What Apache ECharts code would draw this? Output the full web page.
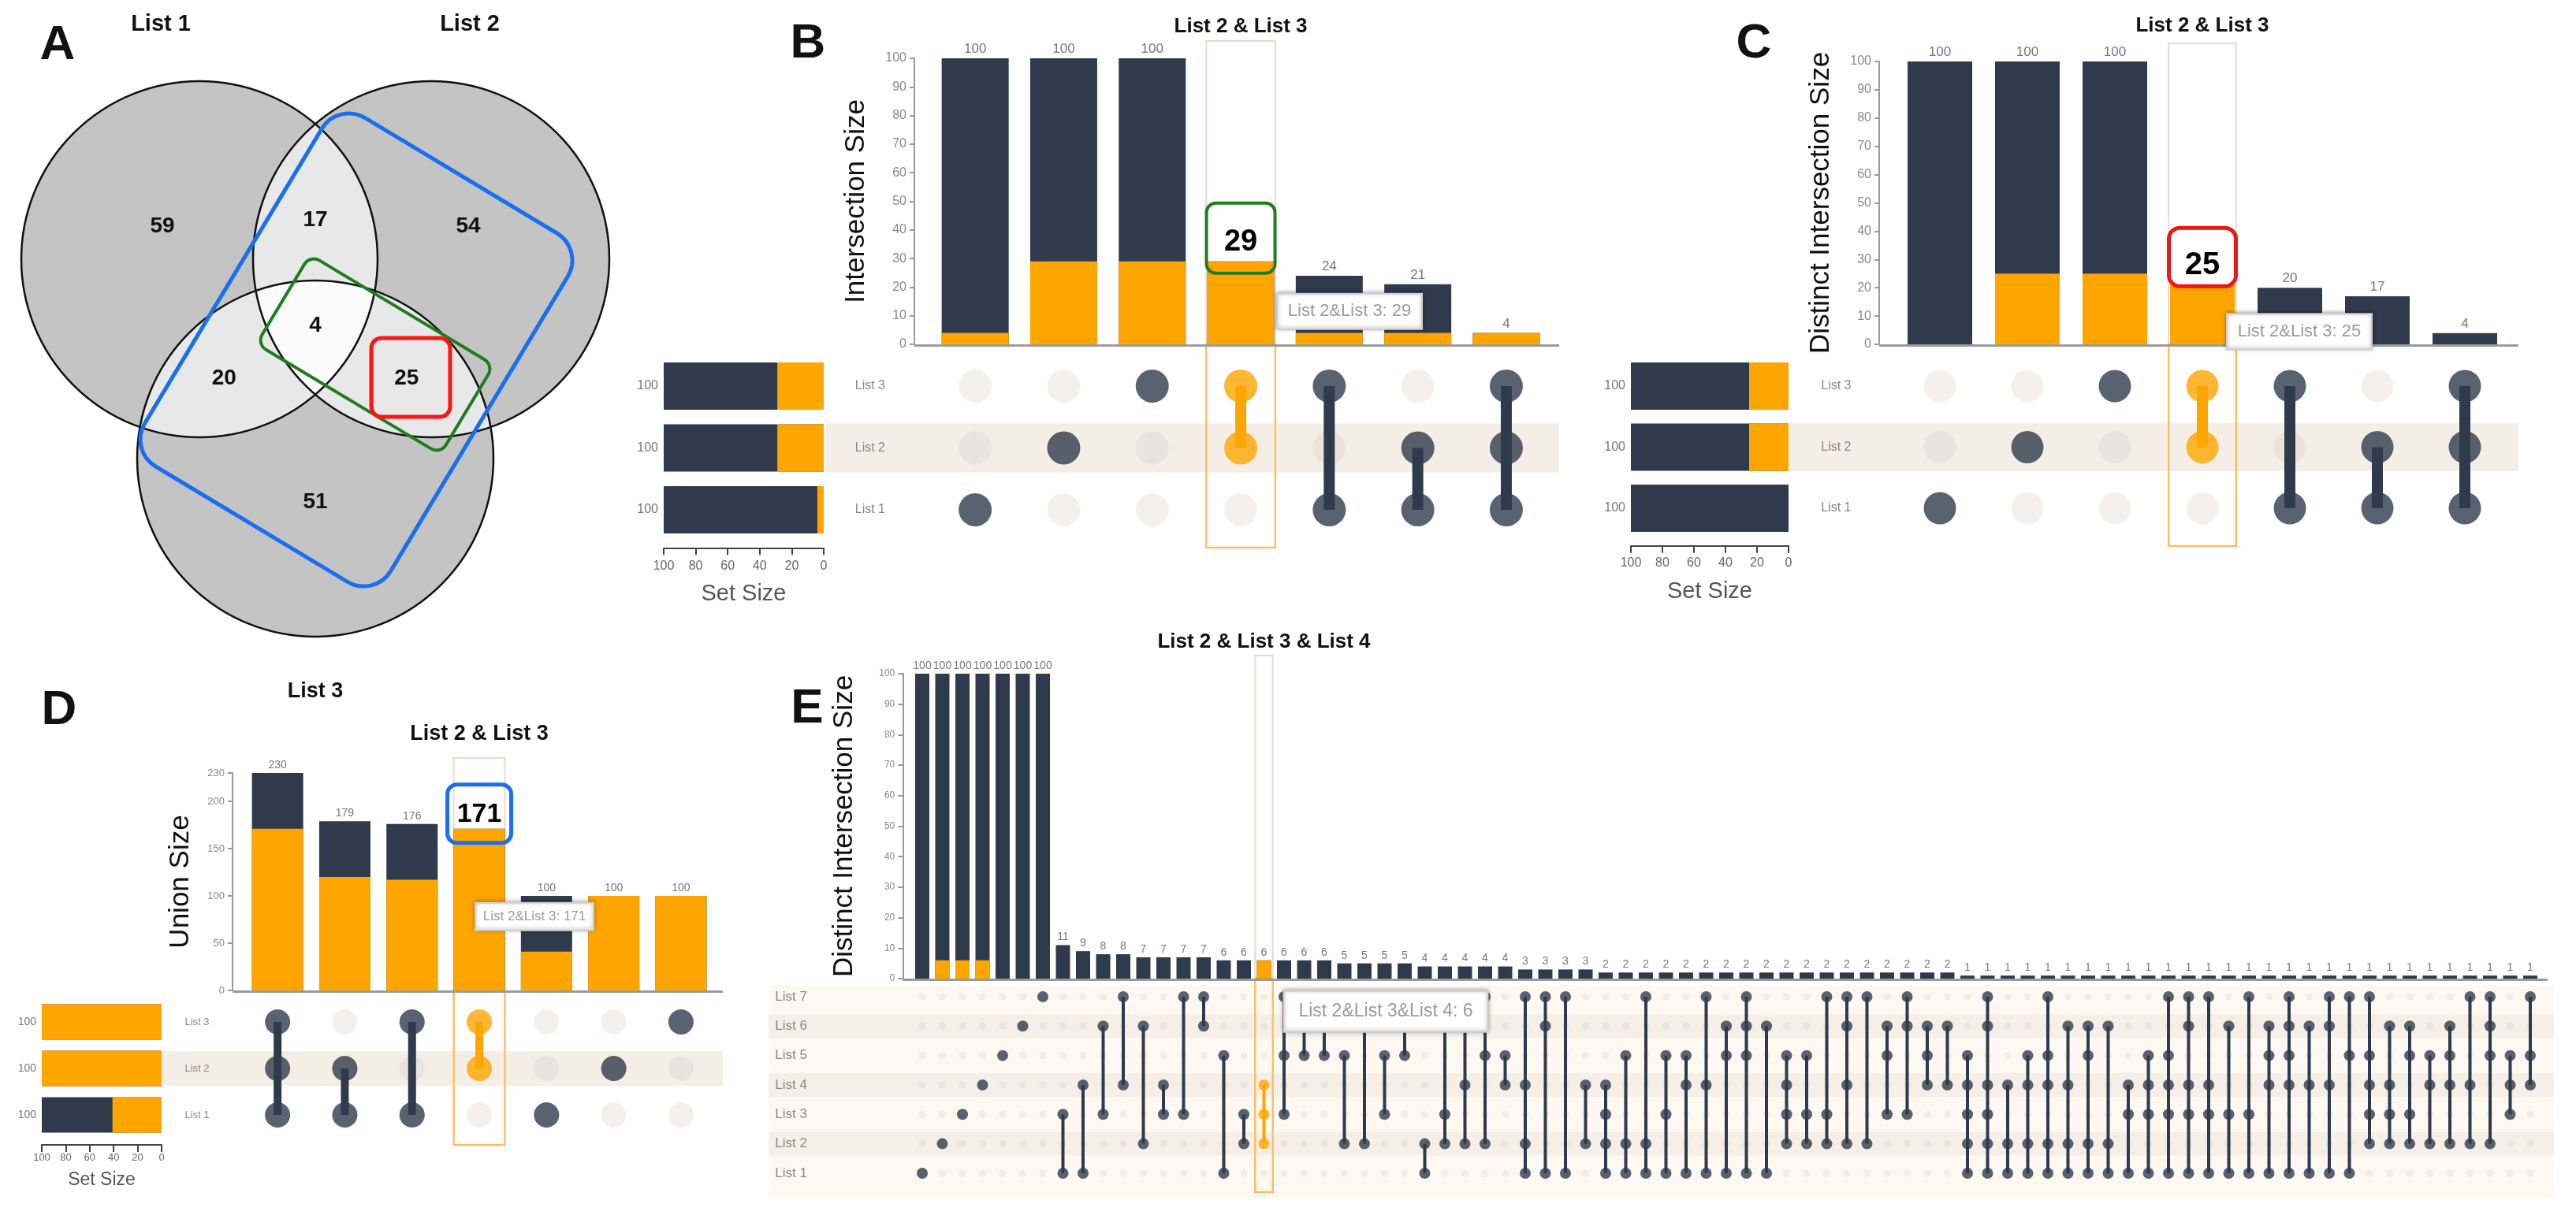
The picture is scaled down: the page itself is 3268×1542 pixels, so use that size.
<!DOCTYPE html>
<html>
<head>
<meta charset="utf-8">
<title>Venn and UpSet plots</title>
<script src="https://cdn.jsdelivr.net/npm/echarts@6/dist/echarts.min.js"></script>
<style>
html,body{margin:0;padding:0;background:#fff;}
#chart{width:3268px;height:1542px;}
</style>
</head>
<body>
<div id="chart"></div>
<script>
// ======================= DATA =======================
// Panel A - Venn diagram (membership key = List1 List2 List3)
const vennSetNames = ['List 1', 'List 2', 'List 3'];
const vennRegionKeys = ['100', '110', '010', '111', '101', '011', '001'];
const vennRegionCounts = [59, 17, 54, 4, 20, 25, 51];

// Panel B - Intersection Size
const bSets = ['List 1', 'List 2', 'List 3'];
const bMembers = [[0], [1], [2], [1, 2], [0, 2], [0, 1], [0, 1, 2]];
const bSizes = [100, 100, 100, 29, 24, 21, 4];
const bSelected = [4, 29, 29, 29, 4, 4, 4];
const bSetSizes = [100, 100, 100];
const bSetSelected = [4, 29, 29];
const bYTicks = [0, 10, 20, 30, 40, 50, 60, 70, 80, 90, 100];
const bSetTicks = [0, 20, 40, 60, 80, 100];
const bHighlight = 3;

// Panel C - Distinct Intersection Size
const cSets = ['List 1', 'List 2', 'List 3'];
const cMembers = [[0], [1], [2], [1, 2], [0, 2], [0, 1], [0, 1, 2]];
const cSizes = [100, 100, 100, 25, 20, 17, 4];
const cSelected = [0, 25, 25, 25, 0, 0, 0];
const cSetSizes = [100, 100, 100];
const cSetSelected = [0, 25, 25];
const cYTicks = [0, 10, 20, 30, 40, 50, 60, 70, 80, 90, 100];
const cSetTicks = [0, 20, 40, 60, 80, 100];
const cHighlight = 3;

// Panel D - Union Size
const dSets = ['List 1', 'List 2', 'List 3'];
const dMembers = [[0, 1, 2], [0, 1], [0, 2], [1, 2], [0], [1], [2]];
const dSizes = [230, 179, 176, 171, 100, 100, 100];
const dSelected = [171, 120, 117, 171, 41, 100, 100];
const dSetSizes = [100, 100, 100];
const dSetSelected = [41, 100, 100];
const dYTicks = [0, 50, 100, 150, 200, 230];
const dSetTicks = [0, 20, 40, 60, 80, 100];
const dHighlight = 3;

// Panel E - Distinct Intersection Size, 7 lists
const eSets = ['List 1', 'List 2', 'List 3', 'List 4', 'List 5', 'List 6', 'List 7'];
const eMembers = [
  [0], [1], [2], [3], [4], [5], [6],
  [0, 2], [0, 3], [2, 5], [3, 6], [1, 5], [2, 3], [2, 6], [5, 6], [0, 4], [1, 2], [1, 2, 3],
  [2, 4, 6], [4, 6], [4, 5], [1, 4], [1, 5, 6], [2, 4], [4, 5, 6], [0, 1], [1, 2, 5], [1, 3, 5], [1, 4, 6], [3, 4],
  [0, 1, 3, 6], [0, 5, 6], [0, 6], [1, 3], [0, 1, 2, 3], [0, 1, 4], [0, 1, 6], [0, 2, 4], [0, 3, 4], [0, 3, 6],
  [0, 4, 5], [0, 4, 5, 6], [0, 5], [1, 2, 3, 4], [1, 2, 4], [1, 2, 6], [1, 3, 5, 6], [1, 6], [2, 4, 5], [2, 5, 6],
  [3, 4, 5], [3, 5],
  [0, 1, 2, 3, 4], [0, 1, 2, 3, 5, 6], [0, 1, 3], [0, 1, 3, 4], [0, 1, 3, 4, 6], [0, 1, 3, 5], [0, 1, 4, 5], [0, 1, 5],
  [0, 2, 3], [0, 2, 3, 4], [0, 2, 3, 4, 6], [0, 2, 3, 5, 6], [0, 2, 3, 6], [0, 2, 5], [0, 2, 6], [0, 3, 4, 5],
  [0, 3, 4, 5, 6], [0, 3, 5], [0, 3, 5, 6], [0, 4, 6],
  [1, 2, 3, 4, 6], [1, 2, 3, 5], [1, 2, 4, 5], [1, 3, 4], [1, 3, 4, 5], [1, 3, 6], [1, 4, 5, 6], [2, 3, 4], [3, 4, 6]
];
const eSizes = [100, 100, 100, 100, 100, 100, 100, 11, 9, 8, 8, 7, 7, 7, 7, 6, 6, 6, 6, 6, 6, 5, 5, 5, 5,
  4, 4, 4, 4, 4, 3, 3, 3, 3, 2, 2, 2, 2, 2, 2, 2, 2, 2, 2, 2, 2, 2, 2, 2, 2, 2, 2,
  1, 1, 1, 1, 1, 1, 1, 1, 1, 1, 1, 1, 1, 1, 1, 1, 1, 1, 1, 1, 1, 1, 1, 1, 1, 1, 1, 1, 1];
const eSelected = [0, 6, 6, 6, 0, 0, 0, 0, 0, 0, 0, 0, 0, 0, 0, 0, 0, 6, 0, 0, 0, 0, 0, 0, 0,
  0, 0, 0, 0, 0, 0, 0, 0, 0, 0, 0, 0, 0, 0, 0, 0, 0, 0, 0, 0, 0, 0, 0, 0, 0, 0, 0,
  0, 0, 0, 0, 0, 0, 0, 0, 0, 0, 0, 0, 0, 0, 0, 0, 0, 0, 0, 0, 0, 0, 0, 0, 0, 0, 0, 0, 0];
const eYTicks = [0, 10, 20, 30, 40, 50, 60, 70, 80, 90, 100];
const eHighlight = 17;

// ======================= STYLE / LAYOUT =======================
const FONT = '"Liberation Sans", Arial, Helvetica, sans-serif';
const NAVY = '#2f3b4c';
const ORANGE = '#ffa500';

const LB = {
  colLeft: 1181, colPitch: 112.3, barTop: 74, barBottom: 437, axisOffset: 21, baseRight: 1978,
  barW: 85, tickFont: 16, valFont: 17, nameFont: 35, nameGap: 56,
  rowTop: 450.75, rowPitch: 78.5, rowLabelMargin: 58, rowLabelAlign: 'right', rowLabelFont: 16,
  dotSize: 42, inactiveSize: 42, lineW: 14,
  bandRows: [1], bandLeft: 1048, bandRight: 1978, bandFrac: 0.79, bandColor: '#f5eee7',
  inactive: '#f3ece6', inactiveBand: '#e7e1dc',
  set: { left: 842, right: 1045, barH: 60, axisOffset: 9, tickFont: 16, labelMargin: 15, nameFont: 29, nameGap: 44, valFont: 16 },
  hiTop: 52, hiBottom: 695, hiFrac: 0.78, titleY: 34, titleFont: 26,
  annot: { w: 87, top: -74, bot: 15, text: -24, font: 38, color: '#1e7d1e', lw: 4, r: 12, fill: 'none' },
  tip: { dx: 46, dy: 41, w: 184, h: 45, font: 22 }
};
const LC = {
  colLeft: 2405.5, colPitch: 111, barTop: 78, barBottom: 437, axisOffset: 21.5, baseRight: 3195,
  barW: 82, tickFont: 16, valFont: 17, nameFont: 35, nameGap: 56,
  rowTop: 451.25, rowPitch: 77.5, rowLabelMargin: 57, rowLabelAlign: 'right', rowLabelFont: 16,
  dotSize: 41, inactiveSize: 41, lineW: 14,
  bandRows: [1], bandLeft: 2271, bandRight: 3195, bandFrac: 0.79, bandColor: '#f5eee7',
  inactive: '#f3ece6', inactiveBand: '#e7e1dc',
  set: { left: 2069, right: 2269, barH: 60, axisOffset: 9, tickFont: 16, labelMargin: 14, nameFont: 29, nameGap: 44, valFont: 16 },
  hiTop: 55, hiBottom: 693, hiFrac: 0.77, titleY: 33, titleFont: 26,
  annot: { w: 85, top: -58, bot: 16, text: -10, font: 40, color: '#f01414', lw: 5, r: 14, fill: '#ffffff' },
  tip: { dx: 31, dy: 51, w: 184, h: 45, font: 22 }
};
const LD = {
  colLeft: 309.5, colPitch: 85.3, barTop: 981, barBottom: 1257, axisOffset: 14.5, baseRight: 917,
  barW: 65, tickFont: 13, valFont: 14, nameFont: 35, nameGap: 48,
  rowTop: 1267.5, rowPitch: 59, rowLabelMargin: 44, rowLabelAlign: 'right', rowLabelFont: 13,
  dotSize: 32, inactiveSize: 32, lineW: 10,
  bandRows: [1], bandLeft: 205, bandRight: 917, bandFrac: 0.75, bandColor: '#f5eee7',
  inactive: '#f3ece6', inactiveBand: '#e7e1dc',
  set: { left: 53, right: 205, barH: 45, axisOffset: 8.5, tickFont: 13, labelMargin: 10, nameFont: 23, nameGap: 33, valFont: 14 },
  hiTop: 962, hiBottom: 1453, hiFrac: 0.76, titleY: 932, titleFont: 27,
  annot: { w: 81, top: -56, bot: 18, text: -18, font: 34, color: '#1a6ff0', lw: 5, r: 12, fill: 'none' },
  tip: { dx: -5, dy: 94, w: 150, h: 35, font: 17 }
};
const LE = {
  colLeft: 1157.25, colPitch: 25.5, barTop: 855, barBottom: 1242, axisOffset: 12, baseRight: 3232,
  barW: 18, tickFont: 12, valFont: 14, nameFont: 35, nameGap: 56,
  rowTop: 1246.3, rowPitch: 37.33, rowLabelMargin: 174, rowLabelAlign: 'left', rowLabelFont: 17,
  dotSize: 14, inactiveSize: 9, lineW: 4,
  bandRows: [1, 3, 5], bandLeft: 975, bandRight: 3240, bandFrac: 0.8, bandColor: '#f6efe8',
  inactive: '#f1e8e1', inactiveBand: '#e9e2dc',
  bg: { left: 975, right: 3240, top: 1250, bottom: 1520, color: '#fdf8f2' },
  set: null,
  hiTop: 832, hiBottom: 1513, hiFrac: 0.88, titleY: 815, titleFont: 26,
  annot: null,
  tip: { dx: 25, dy: 39, w: 259, h: 52, font: 23 }
};

// ======================= BUILD =======================
const option = {
  animation: false,
  backgroundColor: '#ffffff',
  textStyle: { fontFamily: FONT },
  grid: [], xAxis: [], yAxis: [], series: [],
  graphic: { elements: [] }
};
const G = option.graphic.elements;

function txt(x, y, text, size, o) {
  o = o || {};
  return {
    type: 'text', x: x, y: y, z: o.z || 30, silent: true,
    style: {
      text: text, font: (o.bold ? 'bold ' : '') + size + 'px ' + FONT, fill: o.color || '#111',
      align: o.align || 'center', verticalAlign: 'middle',
      textAlign: o.align || 'center', textVerticalAlign: 'middle'
    }
  };
}
function addGrid(g) {
  option.grid.push(Object.assign({ outerBoundsMode: 'none', containLabel: false }, g));
  return option.grid.length - 1;
}

// ---------- Panel A : Venn ----------
const VC = [{ x: 253, y: 329 }, { x: 547, y: 329 }, { x: 400, y: 582 }];
const VR = 226;
function intersectPoly(idx) {
  const pts = [];
  const N = 1440;
  idx.forEach(function (i) {
    const c = VC[i];
    for (let k = 0; k < N; k++) {
      const a = 2 * Math.PI * k / N;
      const x = c.x + VR * Math.cos(a), y = c.y + VR * Math.sin(a);
      if (idx.every(function (j) { return j === i || Math.hypot(x - VC[j].x, y - VC[j].y) <= VR + 0.5; })) pts.push([x, y]);
    }
  });
  let cx = 0, cy = 0;
  pts.forEach(function (p) { cx += p[0]; cy += p[1]; });
  cx /= pts.length; cy /= pts.length;
  pts.sort(function (p, q) { return Math.atan2(p[1] - cy, p[0] - cx) - Math.atan2(q[1] - cy, q[0] - cx); });
  return pts;
}
VC.forEach(function (c) { G.push({ type: 'circle', z: 1, silent: true, shape: { cx: c.x, cy: c.y, r: VR }, style: { fill: '#c4c4c4' } }); });
[[0, 1], [0, 2], [1, 2]].forEach(function (p) { G.push({ type: 'polygon', z: 2, silent: true, shape: { points: intersectPoly(p) }, style: { fill: '#e8e8e8' } }); });
G.push({ type: 'polygon', z: 3, silent: true, shape: { points: intersectPoly([0, 1, 2]) }, style: { fill: '#fafafa' } });
VC.forEach(function (c) { G.push({ type: 'circle', z: 4, silent: true, shape: { cx: c.x, cy: c.y, r: VR }, style: { fill: 'none', stroke: '#111', lineWidth: 2.5 } }); });

// region label positions: centroid of each region (sampled), exclusive ones pulled slightly inward
(function () {
  const acc = {};
  for (let x = 20; x < 790; x += 2) {
    for (let y = 95; y < 815; y += 2) {
      const key = VC.map(function (c) { return Math.hypot(x - c.x, y - c.y) <= VR ? '1' : '0'; }).join('');
      if (key === '000') continue;
      if (!acc[key]) acc[key] = { sx: 0, sy: 0, n: 0 };
      acc[key].sx += x; acc[key].sy += y; acc[key].n++;
    }
  }
  const mx = (VC[0].x + VC[1].x + VC[2].x) / 3, my = (VC[0].y + VC[1].y + VC[2].y) / 3;
  vennRegionKeys.forEach(function (k, i) {
    const a = acc[k];
    let x = a.sx / a.n, y = a.sy / a.n;
    const excl = k.split('1').length - 1 === 1;
    if (excl) { x += 0.08 * (mx - x); y += 0.08 * (my - y) - (y < my ? 14 : 0); }
    G.push(txt(x, y, String(vennRegionCounts[i]), 28, { bold: true, z: 10 }));
  });
})();
G.push(txt(204, 31, vennSetNames[0], 29, { bold: true }));
G.push(txt(596, 31, vennSetNames[1], 29, { bold: true }));
// highlight outlines on the Venn
G.push({ type: 'rect', z: 12, silent: true, x: 452, y: 444, rotation: -31 * Math.PI / 180,
  shape: { x: -182, y: -258, width: 364, height: 516, r: 40 }, style: { fill: 'none', stroke: '#1a6ff0', lineWidth: 5 } });
G.push({ type: 'rect', z: 12, silent: true, x: 476, y: 450, rotation: -31 * Math.PI / 180,
  shape: { x: -136, y: -66, width: 272, height: 132, r: 14 }, style: { fill: 'none', stroke: '#1e7d1e', lineWidth: 4 } });
G.push({ type: 'rect', z: 12, silent: true, shape: { x: 471, y: 429, width: 100, height: 100, r: 13 }, style: { fill: 'none', stroke: '#ff1414', lineWidth: 5 } });

// panel letters
G.push(txt(73, 58, 'A', 62, { bold: true }));
G.push(txt(1025, 56, 'B', 62, { bold: true }));
G.push(txt(2225, 56, 'C', 62, { bold: true }));
G.push(txt(75, 902, 'D', 62, { bold: true }));
G.push(txt(1024, 900, 'E', 62, { bold: true }));
G.push(txt(400, 878, 'List 3', 27, { bold: true }));

// ---------- UpSet builder ----------
function upset(P, L) {
  const nC = P.members.length, nS = P.sets.length;
  const combos = P.members.map(function (m) { return m.map(function (i) { return P.sets[i]; }).join('&'); });
  const hi = P.hi;

  // --- intersection bars
  const gB = addGrid({ left: L.colLeft, top: L.barTop, width: L.colPitch * nC, height: L.barBottom - L.barTop });
  const xB = option.xAxis.push({ gridIndex: gB, type: 'category', data: combos, show: false }) - 1;
  const yB = option.yAxis.push({
    gridIndex: gB, type: 'value', min: P.yTicks[0], max: P.yTicks[P.yTicks.length - 1],
    interval: P.yTicks[1] - P.yTicks[0], offset: L.axisOffset,
    axisLine: { show: true, lineStyle: { color: '#999', width: 2 } },
    axisTick: { show: true, length: 6, lineStyle: { color: '#999', width: 2 } },
    axisLabel: { fontSize: L.tickFont, color: '#888', margin: 10, fontFamily: FONT },
    splitLine: { show: false },
    name: P.yName, nameLocation: 'middle', nameRotate: 90, nameGap: L.nameGap, nameMoveOverlap: false,
    nameTextStyle: { fontSize: L.nameFont, color: '#111', fontFamily: FONT }
  }) - 1;
  option.series.push({
    type: 'bar', xAxisIndex: xB, yAxisIndex: yB, data: P.sizes, barWidth: L.barW, z: 2, silent: true,
    itemStyle: { color: NAVY },
    label: { show: true, position: 'top', distance: 3, fontSize: L.valFont, color: '#777', fontFamily: FONT,
      formatter: function (p) { return (P.hideHiLabel && p.dataIndex === hi) ? '' : String(p.value); } }
  });
  option.series.push({
    type: 'bar', xAxisIndex: xB, yAxisIndex: yB, data: P.selected, barWidth: L.barW, barGap: '-100%', z: 3, silent: true,
    itemStyle: { color: ORANGE }
  });
  G.push({ type: 'line', z: 8, silent: true, shape: { x1: L.colLeft - L.axisOffset, y1: L.barBottom + 1.5, x2: L.baseRight, y2: L.barBottom + 1.5 },
    style: { stroke: '#9a9a9a', lineWidth: 3 } });

  // highlight column + title
  const title = combos[hi].split('&').join(' & ');
  option.series.push({
    type: 'custom', xAxisIndex: xB, yAxisIndex: yB, z: 1, silent: true, clip: false,
    data: [[hi, 0]], encode: { x: 0, y: 1 },
    renderItem: function (params, api) {
      const c = api.coord([api.value(0), 0]);
      const w = api.size([1, 0])[0] * L.hiFrac;
      return { type: 'group', children: [
        { type: 'rect', shape: { x: c[0] - w / 2, y: L.hiTop, width: w, height: L.barBottom - L.hiTop }, style: { fill: 'none', stroke: '#e4dcd4', lineWidth: 2 } },
        { type: 'rect', shape: { x: c[0] - w / 2, y: L.barBottom, width: w, height: L.hiBottom - L.barBottom }, style: { fill: 'none', stroke: '#fbc064', lineWidth: 2.5 } },
        { type: 'text', style: { text: title, x: c[0], y: L.titleY, font: 'bold ' + L.titleFont + 'px ' + FONT, fill: '#111',
          align: 'center', verticalAlign: 'middle', textAlign: 'center', textVerticalAlign: 'middle' } }
      ] };
    }
  });

  // annotation box
  if (L.annot) {
    const A = L.annot;
    option.series.push({
      type: 'custom', xAxisIndex: xB, yAxisIndex: yB, z: 6, silent: true, clip: false,
      data: [[hi, P.selected[hi]]], encode: { x: 0, y: 1 },
      renderItem: function (params, api) {
        const c = api.coord([api.value(0), api.value(1)]);
        return { type: 'group', children: [
          { type: 'rect', shape: { x: c[0] - A.w / 2, y: c[1] + A.top, width: A.w, height: A.bot - A.top, r: A.r },
            style: { fill: A.fill, stroke: A.color, lineWidth: A.lw } },
          { type: 'text', style: { text: String(api.value(1)), x: c[0], y: c[1] + A.text, font: 'bold ' + A.font + 'px ' + FONT, fill: '#000',
            align: 'center', verticalAlign: 'middle', textAlign: 'center', textVerticalAlign: 'middle' } }
        ] };
      }
    });
  }
  // tooltip box
  const T = L.tip;
  option.series.push({
    type: 'custom', xAxisIndex: xB, yAxisIndex: yB, z: 9, silent: true, clip: false,
    data: [[hi, P.sizes[hi]]], encode: { x: 0, y: 1 },
    renderItem: function (params, api) {
      const c = api.coord([api.value(0), api.value(1)]);
      const x = c[0] + T.dx, y = c[1] + T.dy;
      return { type: 'group', children: [
        { type: 'rect', shape: { x: x, y: y, width: T.w, height: T.h },
          style: { fill: '#ffffff', stroke: '#cfcfcf', lineWidth: 2, shadowBlur: 5, shadowColor: 'rgba(0,0,0,0.35)', shadowOffsetY: -1 } },
        { type: 'text', style: { text: combos[hi] + ': ' + P.sizes[hi], x: x + T.w / 2, y: y + T.h / 2,
          font: T.font + 'px ' + FONT, fill: '#9a9a9a', align: 'center', verticalAlign: 'middle', textAlign: 'center', textVerticalAlign: 'middle' } }
      ] };
    }
  });

  // --- matrix
  if (L.bg) G.push({ type: 'rect', z: 0, silent: true, shape: { x: L.bg.left, y: L.bg.top, width: L.bg.right - L.bg.left, height: L.bg.bottom - L.bg.top }, style: { fill: L.bg.color } });
  const gM = addGrid({ left: L.colLeft, top: L.rowTop, width: L.colPitch * nC, height: L.rowPitch * nS });
  const xM = option.xAxis.push({ gridIndex: gM, type: 'category', data: combos, show: false }) - 1;
  const yM = option.yAxis.push({
    gridIndex: gM, type: 'category', data: P.sets,
    axisLine: { show: false }, axisTick: { show: false }, splitLine: { show: false },
    axisLabel: { fontSize: L.rowLabelFont, color: '#888', margin: L.rowLabelMargin, align: L.rowLabelAlign, fontFamily: FONT }
  }) - 1;
  option.series.push({
    type: 'custom', xAxisIndex: xM, yAxisIndex: yM, z: 0, silent: true, clip: false,
    data: L.bandRows.map(function (r) { return [0, r]; }), encode: { x: 0, y: 1 },
    renderItem: function (params, api) {
      const c = api.coord([0, api.value(1)]);
      const h = L.rowPitch * L.bandFrac;
      return { type: 'rect', shape: { x: L.bandLeft, y: c[1] - h / 2, width: L.bandRight - L.bandLeft, height: h }, style: { fill: L.bandColor } };
    }
  });
  const inactive = [], active = [], lines = [];
  P.members.forEach(function (m, c) {
    for (let r = 0; r < nS; r++) {
      if (m.indexOf(r) >= 0) active.push({ value: [c, r], itemStyle: { color: c === hi ? ORANGE : NAVY } });
      else inactive.push({ value: [c, r], itemStyle: { color: L.bandRows.indexOf(r) >= 0 ? L.inactiveBand : L.inactive } });
    }
    if (m.length > 1) lines.push([c, Math.min.apply(null, m), Math.max.apply(null, m)]);
  });
  option.series.push({ type: 'scatter', xAxisIndex: xM, yAxisIndex: yM, data: inactive, symbol: 'circle', symbolSize: L.inactiveSize, z: 2, silent: true });
  option.series.push({
    type: 'custom', xAxisIndex: xM, yAxisIndex: yM, z: 3, silent: true, clip: false,
    data: lines, encode: { x: 0, y: [1, 2] },
    renderItem: function (params, api) {
      const col = api.value(0);
      const p1 = api.coord([col, api.value(1)]), p2 = api.coord([col, api.value(2)]);
      return { type: 'line', shape: { x1: p1[0], y1: p1[1], x2: p2[0], y2: p2[1] }, style: { stroke: col === hi ? ORANGE : NAVY, lineWidth: L.lineW } };
    }
  });
  option.series.push({ type: 'scatter', xAxisIndex: xM, yAxisIndex: yM, data: active, symbol: 'circle', symbolSize: L.dotSize, z: 4, silent: true });

  // --- set size bars
  if (L.set) {
    const S = L.set;
    const gS = addGrid({ left: S.left, top: L.rowTop, width: S.right - S.left, height: L.rowPitch * nS });
    const xS = option.xAxis.push({
      gridIndex: gS, type: 'value', inverse: true, min: P.setTicks[0], max: P.setTicks[P.setTicks.length - 1],
      interval: P.setTicks[1] - P.setTicks[0], offset: S.axisOffset,
      axisLine: { show: true, lineStyle: { color: '#444', width: 2 } },
      axisTick: { show: true, length: 9, lineStyle: { color: '#444', width: 2 } },
      axisLabel: { fontSize: S.tickFont, color: '#666', margin: S.labelMargin, fontFamily: FONT },
      splitLine: { show: false },
      name: 'Set Size', nameLocation: 'middle', nameGap: S.nameGap, nameMoveOverlap: false,
      nameTextStyle: { fontSize: S.nameFont, color: '#555', fontFamily: FONT }
    }) - 1;
    const yS = option.yAxis.push({ gridIndex: gS, type: 'category', data: P.sets, show: false }) - 1;
    option.series.push({
      type: 'bar', xAxisIndex: xS, yAxisIndex: yS, data: P.setSizes, barWidth: S.barH, z: 2, silent: true,
      itemStyle: { color: NAVY },
      label: { show: true, position: 'left', distance: 7, fontSize: S.valFont, color: '#777', fontFamily: FONT }
    });
    option.series.push({
      type: 'bar', xAxisIndex: xS, yAxisIndex: yS, data: P.setSelected, barWidth: S.barH, barGap: '-100%', z: 3, silent: true,
      itemStyle: { color: ORANGE }
    });
  }
}

upset({ sets: bSets, members: bMembers, sizes: bSizes, selected: bSelected, setSizes: bSetSizes, setSelected: bSetSelected,
  yTicks: bYTicks, setTicks: bSetTicks, hi: bHighlight, yName: 'Intersection Size', hideHiLabel: true }, LB);
upset({ sets: cSets, members: cMembers, sizes: cSizes, selected: cSelected, setSizes: cSetSizes, setSelected: cSetSelected,
  yTicks: cYTicks, setTicks: cSetTicks, hi: cHighlight, yName: 'Distinct Intersection Size', hideHiLabel: true }, LC);
upset({ sets: dSets, members: dMembers, sizes: dSizes, selected: dSelected, setSizes: dSetSizes, setSelected: dSetSelected,
  yTicks: dYTicks, setTicks: dSetTicks, hi: dHighlight, yName: 'Union Size', hideHiLabel: true }, LD);
upset({ sets: eSets, members: eMembers, sizes: eSizes, selected: eSelected,
  yTicks: eYTicks, hi: eHighlight, yName: 'Distinct Intersection Size', hideHiLabel: false }, LE);

const chart = echarts.init(document.getElementById('chart'), null, { renderer: 'canvas' });
chart.setOption(option);
</script>
</body>
</html>
